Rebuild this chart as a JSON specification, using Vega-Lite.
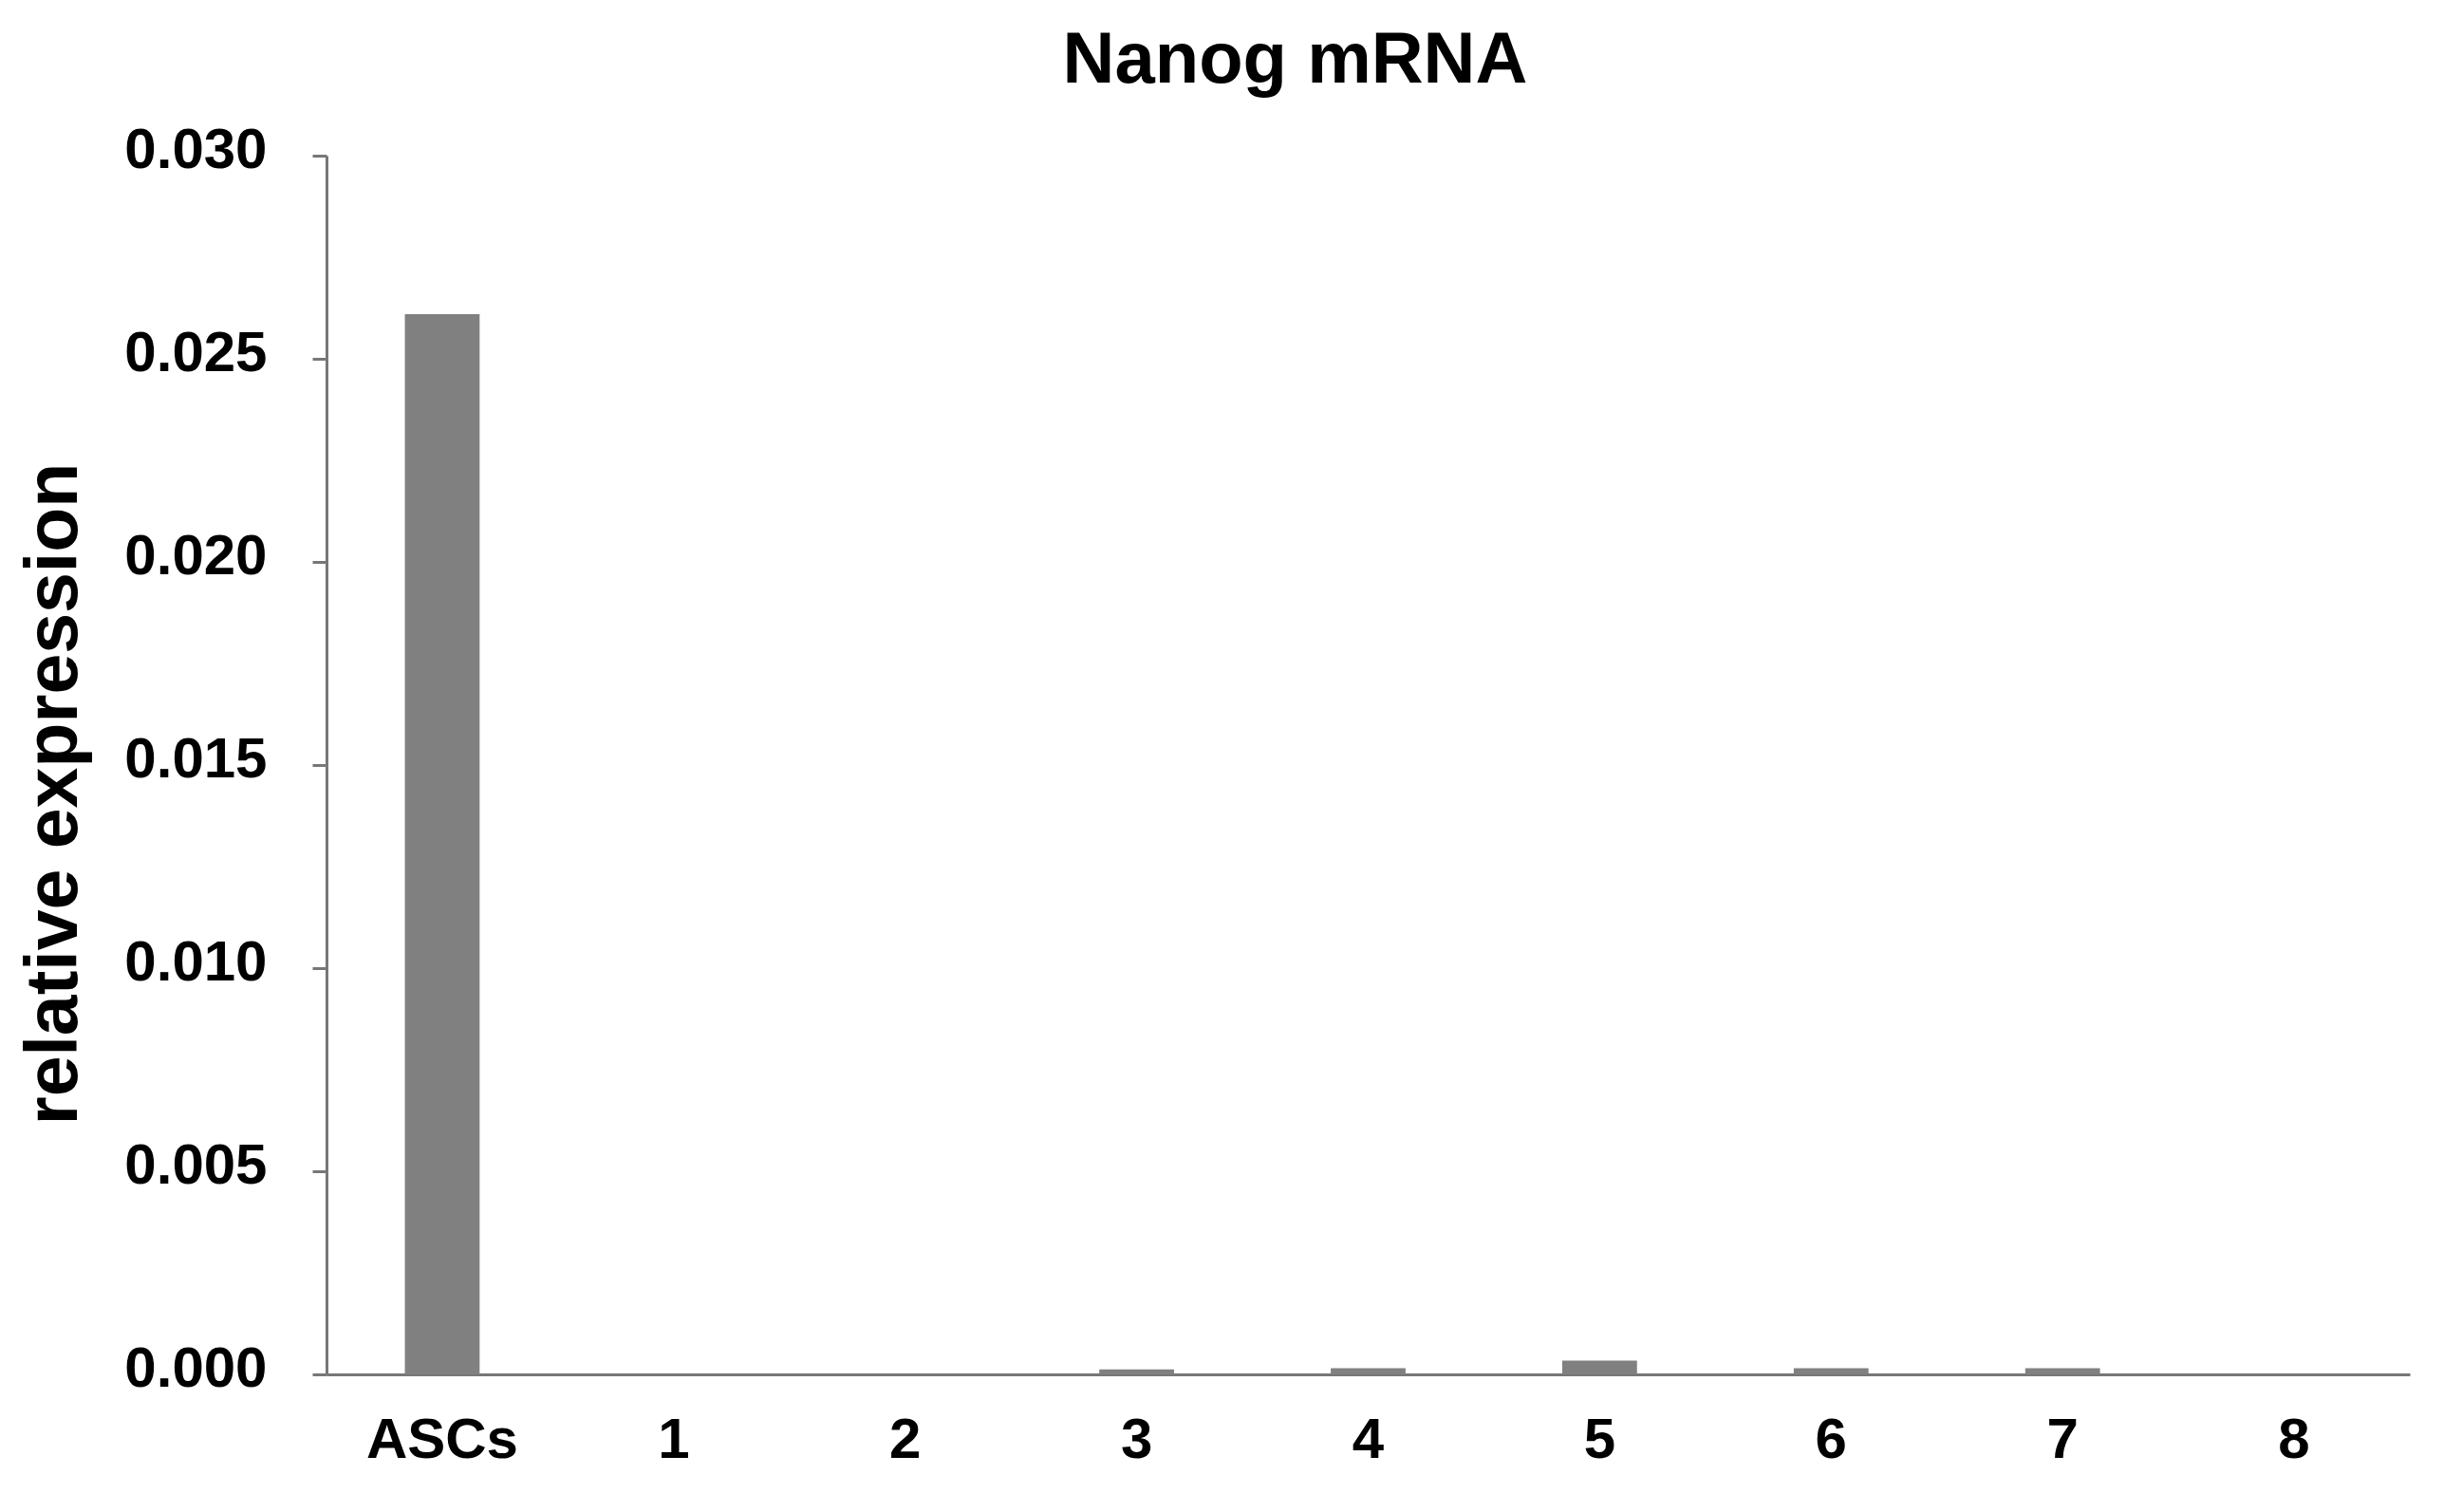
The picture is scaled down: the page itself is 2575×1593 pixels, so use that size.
{
  "$schema": "https://vega.github.io/schema/vega-lite/v6.json",
  "description": "Nanog mRNA relative expression",
  "autosize": {"type": "none"},
  "width": 2195,
  "height": 1284,
  "padding": {"left": 344, "top": 164, "right": 36, "bottom": 145},
  "background": "white",
  "title": {
    "text": "Nanog mRNA",
    "font": "Liberation Sans",
    "fontSize": 76,
    "fontWeight": "bold",
    "color": "black",
    "anchor": "middle",
    "frame": "group",
    "dx": -77,
    "offset": 25
  },
  "data": {
    "values": [
      {"sample": "ASCs", "expression": 0.0261},
      {"sample": "1", "expression": 0.0},
      {"sample": "2", "expression": 0.0},
      {"sample": "3", "expression": 0.00012},
      {"sample": "4", "expression": 0.00015},
      {"sample": "5", "expression": 0.00034},
      {"sample": "6", "expression": 0.00015},
      {"sample": "7", "expression": 0.00015},
      {"sample": "8", "expression": 0.0}
    ]
  },
  "mark": {"type": "bar", "color": "#808080"},
  "encoding": {
    "x": {
      "field": "sample",
      "type": "nominal",
      "sort": null,
      "scale": {"paddingInner": 0.677, "paddingOuter": 0.3385},
      "axis": {
        "title": null,
        "labelAngle": 0,
        "labelFont": "Liberation Sans",
        "labelFontSize": 60,
        "labelFontWeight": "bold",
        "labelColor": "black",
        "labelPadding": 40,
        "ticks": false,
        "tickSize": 0,
        "domainColor": "#777777",
        "domainWidth": 3,
        "grid": false
      }
    },
    "y": {
      "field": "expression",
      "type": "quantitative",
      "scale": {"domain": [0, 0.03], "nice": false},
      "axis": {
        "title": "relative expression",
        "titleFont": "Liberation Sans",
        "titleFontSize": 77,
        "titleFontWeight": "bold",
        "titleColor": "black",
        "titleAngle": -90,
        "titleAlign": "center",
        "titleBaseline": "alphabetic",
        "titleX": -264,
        "titleY": 672,
        "values": [0, 0.005, 0.01, 0.015, 0.02, 0.025, 0.03],
        "format": ".3f",
        "labelFont": "Liberation Sans",
        "labelFontSize": 60,
        "labelFontWeight": "bold",
        "labelColor": "black",
        "labelPadding": 48,
        "labelOffset": -6,
        "tickSize": 15,
        "tickWidth": 3,
        "tickColor": "#777777",
        "domainColor": "#777777",
        "domainWidth": 3,
        "grid": false
      }
    }
  },
  "config": {
    "view": {"stroke": null}
  }
}
